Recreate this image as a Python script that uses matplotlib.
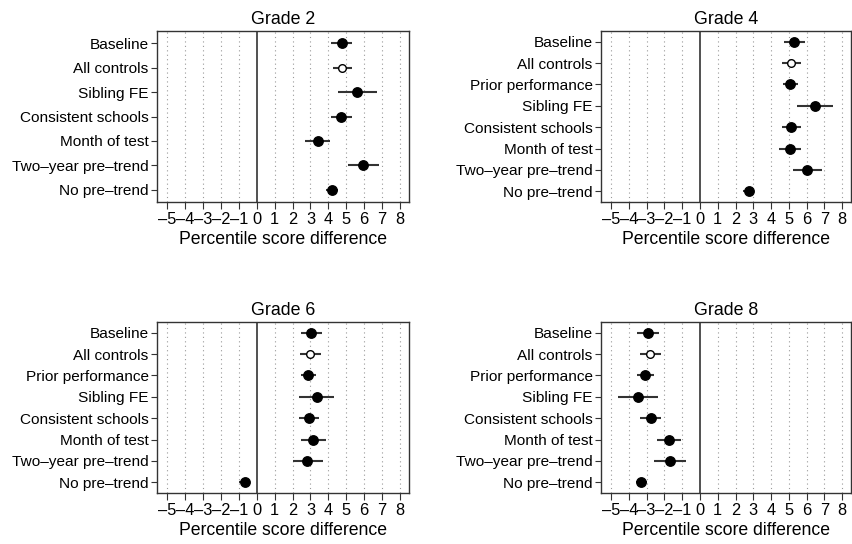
import numpy as np
import matplotlib.pyplot as plt

plt.rcParams["font.family"] = ["Liberation Sans", "DejaVu Sans"]

LABELS_7 = ["Baseline", "All controls", "Sibling FE", "Consistent schools",
            "Month of test", "Two\u2013year pre\u2013trend", "No pre\u2013trend"]
LABELS_8 = ["Baseline", "All controls", "Prior performance", "Sibling FE",
            "Consistent schools", "Month of test", "Two\u2013year pre\u2013trend",
            "No pre\u2013trend"]

# Grade 2
g2_est = [4.75, 4.77, 5.62, 4.71, 3.41, 5.94, 4.19]
g2_lo = [4.12, 4.23, 4.56, 4.15, 2.72, 5.10, 3.87]
g2_hi = [5.33, 5.33, 6.72, 5.29, 4.10, 6.83, 4.53]

# Grade 4
g4_est = [5.31, 5.14, 5.08, 6.46, 5.14, 5.05, 6.05, 2.74]
g4_lo = [4.75, 4.60, 4.67, 5.46, 4.60, 4.43, 5.23, 2.44]
g4_hi = [5.92, 5.68, 5.53, 7.47, 5.68, 5.70, 6.89, 3.05]

# Grade 6
g6_est = [3.04, 3.00, 2.87, 3.35, 2.92, 3.15, 2.83, -0.67]
g6_lo = [2.46, 2.44, 2.46, 2.35, 2.35, 2.46, 2.01, -0.97]
g6_hi = [3.63, 3.56, 3.30, 4.34, 3.48, 3.85, 3.69, -0.37]

# Grade 8
g8_est = [-2.93, -2.80, -3.08, -3.49, -2.78, -1.75, -1.68, -3.32]
g8_lo = [-3.56, -3.36, -3.53, -4.63, -3.38, -2.44, -2.57, -3.62]
g8_hi = [-2.31, -2.20, -2.61, -2.35, -2.18, -1.04, -0.80, -3.00]

XTICKS = list(range(-5, 9))
FRAME = "#333333"


def panel(fig, rect, title, labels, est, lo, hi):
    ax = fig.add_axes(rect)
    n = len(labels)
    y = np.arange(n)[::-1]
    est = np.asarray(est)
    xerr = np.vstack([est - np.asarray(lo), np.asarray(hi) - est])

    for t in XTICKS:
        if t != 0:
            ax.axvline(t, color="#999999", linestyle=(0, (1, 3)), linewidth=0.8, zorder=0)
    ax.axvline(0, color="#333333", linewidth=1.2, zorder=1)

    ax.errorbar(est, y, xerr=xerr, fmt="none", ecolor="#333333", elinewidth=1.5,
                capsize=0, zorder=2)
    for i in range(n):
        if labels[i] == "All controls":
            ax.plot(est[i], y[i], "o", ms=5.5, mfc="white", mec="black", mew=1.0, zorder=3)
        else:
            ax.plot(est[i], y[i], "o", ms=6.8, color="black", zorder=3)

    ax.set_xlim(-5.57, 8.5)
    ax.set_ylim(-0.5, n - 0.5)
    ax.set_xticks(XTICKS)
    ax.set_xticklabels([f"\u2013{abs(t)}" if t < 0 else str(t) for t in XTICKS])
    ax.set_yticks(y)
    ax.set_yticklabels(labels)
    ax.tick_params(axis="both", color=FRAME, width=0.8)
    ax.tick_params(axis="x", length=5, pad=2, labelsize=11.8)
    ax.tick_params(axis="y", length=4, pad=2, labelsize=11.1)
    for s in ax.spines.values():
        s.set_color(FRAME)
        s.set_linewidth(1.0)
    ax.set_title(title, fontsize=12.8, pad=5)
    ax.set_xlabel("Percentile score difference", fontsize=12.7, labelpad=3)
    return ax


fig = plt.figure(figsize=(8.52, 5.44), dpi=100)
W, H = 852.0, 544.0
h = 171 / H
panel(fig, [157 / W, (H - 202) / H, 252 / W, h], "Grade 2", LABELS_7, g2_est, g2_lo, g2_hi)
panel(fig, [601 / W, (H - 202) / H, 250 / W, h], "Grade 4", LABELS_8, g4_est, g4_lo, g4_hi)
panel(fig, [157 / W, (H - 493) / H, 252 / W, h], "Grade 6", LABELS_8, g6_est, g6_lo, g6_hi)
panel(fig, [601 / W, (H - 493) / H, 250 / W, h], "Grade 8", LABELS_8, g8_est, g8_lo, g8_hi)

fig.savefig("out.png", dpi=100)
